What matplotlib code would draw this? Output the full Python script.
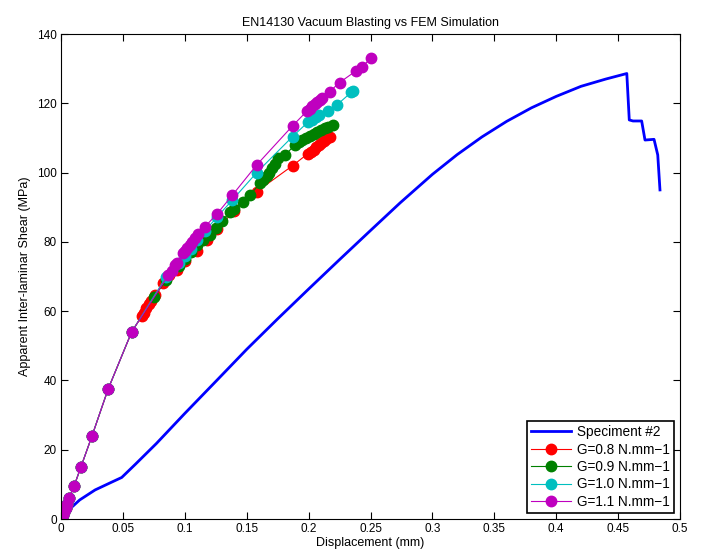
import matplotlib
matplotlib.use('Agg')
import matplotlib.pyplot as plt

plt.rcParams['font.family'] = ['Liberation Sans', 'DejaVu Sans']

# Test curve (specimen #2)
spec_x = [0, 0.0046, 0.015, 0.0275, 0.04, 0.049, 0.06, 0.077, 0.1, 0.126, 0.15, 0.175, 0.2,
          0.225, 0.25, 0.274, 0.3, 0.32, 0.34, 0.36, 0.38, 0.4, 0.42, 0.44,
          0.457, 0.459, 0.462, 0.469, 0.4717, 0.479, 0.482, 0.4838]
spec_y = [0, 2.1, 5.5, 8.4, 10.5, 12.0, 15.8, 21.8, 30.5, 40.1, 49.0, 57.8, 66.4,
          74.9, 83.3, 91.3, 99.5, 105.2, 110.3, 114.8, 118.7, 122.0, 124.9, 127.0,
          128.6, 115.2, 114.9, 114.9, 109.4, 109.6, 105.1, 95.0]

# common start of the FEM runs
start_x = [0, 0.0016, 0.0024, 0.004, 0.005, 0.0065, 0.0105, 0.016, 0.025, 0.038, 0.057]
start_y = [0, 1.2, 2.0, 3.2, 4.3, 6.0, 9.5, 15.0, 24.0, 37.5, 54.0]

g08_x = start_x + [0.065, 0.067, 0.069, 0.071, 0.073, 0.076, 0.0826, 0.087, 0.0934, 0.1,
                   0.11, 0.1177, 0.126, 0.14, 0.158, 0.187, 0.1995, 0.202, 0.204, 0.206,
                   0.208, 0.21, 0.212, 0.214, 0.2173]
g08_y = start_y + [58.5, 59.5, 61.0, 62.0, 63.0, 64.7, 68.0, 70.5, 71.9, 74.5,
                   77.5, 80.5, 83.6, 89.0, 94.5, 102.0, 105.5, 106.0, 106.6, 107.3,
                   107.9, 108.5, 109.0, 109.6, 110.3]

g09_x = start_x + [0.075, 0.085, 0.095, 0.1, 0.105, 0.11, 0.115, 0.12, 0.125, 0.13, 0.1365,
                   0.14, 0.1467, 0.1527, 0.1607, 0.1634, 0.166, 0.168, 0.17, 0.1725, 0.1755,
                   0.181, 0.189, 0.192, 0.195, 0.198, 0.201, 0.204, 0.207, 0.21, 0.213,
                   0.216, 0.2197]
g09_y = start_y + [64.0, 69.0, 73.0, 75.0, 77.0, 79.0, 80.5, 82.0, 84.0, 86.0, 88.7,
                   89.5, 91.6, 93.5, 96.9, 97.9, 99.0, 100.0, 101.2, 102.6, 104.1,
                   105.1, 108.0, 108.7, 109.3, 110.0, 110.6, 111.2, 111.8, 112.3, 112.8,
                   113.2, 113.7]

g10_x = start_x + [0.085, 0.095, 0.1, 0.105, 0.11, 0.1163, 0.1258, 0.1384, 0.158, 0.187,
                   0.1998, 0.203, 0.206, 0.208, 0.216, 0.2227, 0.2345, 0.2356]
g10_y = start_y + [70.0, 74.0, 76.0, 78.0, 80.5, 83.2, 87.1, 92.1, 100.0, 110.4,
                   114.7, 115.3, 116.0, 116.6, 117.8, 119.5, 123.2, 123.6]

g11_x = start_x + [0.0867, 0.0894, 0.092, 0.0934, 0.0988, 0.1, 0.102, 0.104, 0.106, 0.1082,
                   0.111, 0.1163, 0.1258, 0.1384, 0.158, 0.187, 0.199, 0.201, 0.203, 0.205,
                   0.207, 0.209, 0.211, 0.217, 0.225, 0.238, 0.243, 0.2505]
g11_y = start_y + [70.4, 71.7, 73.3, 74.0, 76.7, 77.3, 78.2, 79.1, 80.0, 81.0,
                   82.2, 84.4, 88.0, 93.5, 102.2, 113.5, 117.9, 118.5, 119.1, 119.7,
                   120.3, 120.9, 121.4, 123.4, 126.0, 129.3, 130.6, 133.0]

fig = plt.figure(figsize=(7.02, 5.56), dpi=100)
ax = fig.add_axes([0.087, 0.0665, 0.8817, 0.8723])

ax.plot(spec_x, spec_y, color='#0000ff', lw=2, label='Speciment #2')
ax.plot(g08_x, g08_y, '-o', color='#ff0000', lw=0.8, ms=7.5, label='G=0.8 N.mm\u22121')
ax.plot(g09_x, g09_y, '-o', color='#008000', lw=0.8, ms=7.5, label='G=0.9 N.mm\u22121')
ax.plot(g10_x, g10_y, '-o', color='#00bfbf', lw=0.8, ms=7.5, label='G=1.0 N.mm\u22121')
ax.plot(g11_x, g11_y, '-o', color='#bf00bf', lw=0.8, ms=7.5, label='G=1.1 N.mm\u22121')

ax.set_xlim(0, 0.5)
ax.set_ylim(0, 140)
ax.set_xticks([0, 0.05, 0.1, 0.15, 0.2, 0.25, 0.3, 0.35, 0.4, 0.45, 0.5])
ax.set_xticklabels(['0', '0.05', '0.1', '0.15', '0.2', '0.25', '0.3', '0.35', '0.4', '0.45', '0.5'])
ax.set_yticks(range(0, 141, 20))
ax.tick_params(direction='in', top=True, right=True, labelsize=8.5, length=5, width=0.8, pad=3)
for s in ax.spines.values():
    s.set_linewidth(0.8)

ax.set_title('EN14130 Vacuum Blasting vs FEM Simulation', fontsize=9)
ax.set_xlabel('Displacement (mm)', fontsize=9, labelpad=1)
ax.set_ylabel('Apparent Inter-laminar Shear (MPa)', fontsize=9, labelpad=4)

leg = ax.legend(loc='lower right', fontsize=9.8, fancybox=False, framealpha=1,
                edgecolor='black', borderaxespad=0.45, handlelength=3.0,
                handletextpad=0.4, labelspacing=0.25, borderpad=0.3)
leg.get_frame().set_linewidth(1.2)

fig.savefig('out.png', dpi=100)
